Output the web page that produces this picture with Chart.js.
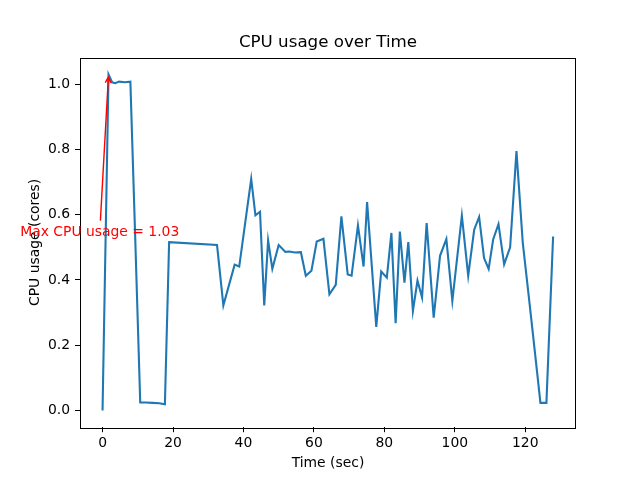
<!DOCTYPE html>
<html>
<head>
<meta charset="utf-8">
<script src="https://cdn.jsdelivr.net/npm/chart.js@4"></script>
<style>
  html, body { margin: 0; padding: 0; background: #fff; }
  canvas { display: block; }
</style>
</head>
<body>
<canvas id="cpu" width="640" height="480"></canvas>
<script>
const times = [0, 1.7, 2.7, 3.6, 4.7, 6.3, 7.9, 9.3, 10.7, 12.3, 14.2, 16.1, 17.7, 18.9,
  32.5, 34.3, 37.5, 38.8, 42.2, 43.4, 44.7, 45.9, 47.0, 48.2, 50.0, 51.9, 53.0, 54.6,
  56.3, 57.7, 59.3, 60.8, 62.7, 64.4, 66.2, 67.8, 69.6, 70.7, 72.5, 74.1, 75.1, 77.7,
  79.1, 80.7, 82.0, 83.2, 84.4, 85.7, 86.8, 88.1, 89.4, 90.7, 92.0, 94.0, 95.8, 97.6,
  99.3, 102.0, 103.8, 105.5, 106.9, 108.3, 109.6, 110.9, 112.4, 114.0, 115.7, 117.5,
  119.3, 121.3, 123.3, 124.3, 126.0, 127.9];
const usage = [0.0, 1.03, 1.006, 1.003, 1.008, 1.006, 1.008, 0.52, 0.024, 0.024, 0.023, 0.022, 0.019, 0.516,
  0.507, 0.322, 0.447, 0.441, 0.71, 0.598, 0.609, 0.322, 0.521, 0.434, 0.507, 0.486, 0.487, 0.484,
  0.485, 0.413, 0.428, 0.518, 0.526, 0.356, 0.385, 0.595, 0.417, 0.413, 0.567, 0.441, 0.639, 0.256,
  0.426, 0.407, 0.544, 0.267, 0.548, 0.392, 0.516, 0.305, 0.398, 0.346, 0.574, 0.284, 0.474, 0.525,
  0.336, 0.597, 0.413, 0.554, 0.593, 0.467, 0.434, 0.525, 0.571, 0.448, 0.5, 0.795,
  0.513, 0.32, 0.123, 0.023, 0.023, 0.533];
const xTicks = [0, 20, 40, 60, 80, 100, 120];
const yTicks = [0.0, 0.2, 0.4, 0.6, 0.8, 1.0];

const peakTime = 1.7;
const peakUsage = 1.03;
const notePos = [-0.8, 0.545];
const noteText = 'Max CPU usage = 1.03';

const FONT = 'DejaVu Sans';

// red arrow + label pointing at the max, and the full axes box
const extras = {
  id: 'extras',
  afterDraw(chart) {
    const {ctx, chartArea: a, scales: {x, y}} = chart;
    ctx.save();

    // axes frame (matplotlib spines)
    ctx.strokeStyle = '#000';
    ctx.lineWidth = 1;
    ctx.strokeRect(Math.round(a.left) + 0.5, Math.round(a.top) + 0.5,
      Math.round(a.right - a.left) - 1, Math.round(a.bottom - a.top));

    const px = x.getPixelForValue(peakTime), py = y.getPixelForValue(peakUsage);
    const tx = x.getPixelForValue(notePos[0]), ty = y.getPixelForValue(notePos[1]);
    const dx = px - tx, dy = py - ty;
    const len = Math.hypot(dx, dy);
    const ux = dx / len, uy = dy / len;
    const sx = tx + ux * 12, sy = ty + uy * 12;
    const ex = px - ux * 2.7, ey = py - uy * 2.7;

    ctx.strokeStyle = 'red';
    ctx.lineWidth = 1.4;
    ctx.beginPath();
    ctx.moveTo(sx, sy);
    ctx.lineTo(ex, ey);
    // open arrow head
    const hl = 5.6, hw = 2.8;
    const bx = ex - ux * hl, by = ey - uy * hl;
    ctx.moveTo(bx - uy * hw, by + ux * hw);
    ctx.lineTo(ex, ey);
    ctx.lineTo(bx + uy * hw, by - ux * hw);
    ctx.stroke();

    ctx.fillStyle = 'red';
    ctx.font = '13.9px "' + FONT + '"';
    ctx.textAlign = 'center';
    ctx.textBaseline = 'middle';
    ctx.fillText(noteText, tx, ty);
    ctx.restore();
  }
};

const tickFont = {family: FONT, size: 13.9};

new Chart(document.getElementById('cpu'), {
  type: 'line',
  data: {
    datasets: [{
      label: 'CPU usage',
      data: times.map((t, i) => ({x: t, y: usage[i]})),
      borderColor: '#1f77b4',
      backgroundColor: '#1f77b4',
      borderWidth: 2.1,
      pointRadius: 0,
      tension: 0,
      fill: false,
    }],
  },
  options: {
    responsive: false,
    devicePixelRatio: 1,
    animation: false,
    layout: {padding: {left: 0, right: 64, top: 0, bottom: 0}},
    plugins: {
      legend: {display: false},
      tooltip: {enabled: false},
      title: {
        display: true,
        text: 'CPU usage over Time',
        color: '#000',
        fullSize: false,
        font: {family: FONT, size: 16.7, weight: 'normal'},
        padding: {top: 33, bottom: 4.6},
      },
    },
    scales: {
      x: {
        type: 'linear',
        min: -6.4,
        max: 134.4,
        afterBuildTicks: s => { s.ticks = xTicks.map(v => ({value: v})); },
        afterFit: s => { s.height = 52.8; },
        ticks: {color: '#000', font: tickFont, padding: 3, maxRotation: 0,
          callback: v => String(v)},
        grid: {drawOnChartArea: false, drawTicks: true, tickLength: 5, tickColor: '#000', tickWidth: 1},
        border: {display: false},
        title: {display: true, text: 'Time (sec)', color: '#000',
          font: {family: FONT, size: 13.9}, padding: {top: 0, bottom: 8.7}},
      },
      y: {
        min: -0.0515,
        max: 1.0815,
        afterBuildTicks: s => { s.ticks = yTicks.map(v => ({value: v})); },
        afterFit: s => { s.width = 80; },
        ticks: {color: '#000', font: tickFont, padding: 5,
          callback: v => v.toFixed(1)},
        grid: {drawOnChartArea: false, drawTicks: true, tickLength: 5, tickColor: '#000', tickWidth: 1},
        border: {display: false},
        title: {display: true, text: 'CPU usage (cores)', color: '#000',
          font: {family: FONT, size: 13.9}, padding: {top: 26.7, bottom: 0}},
      },
    },
  },
  plugins: [extras],
});
</script>
</body>
</html>
